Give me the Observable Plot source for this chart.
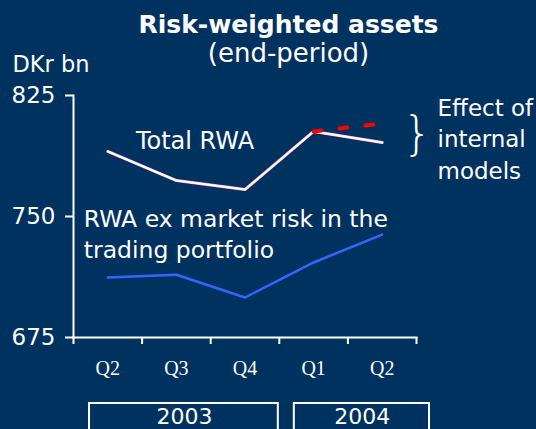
<!DOCTYPE html>
<html>
<head>
<meta charset="utf-8">
<script src="https://cdn.jsdelivr.net/npm/d3@7"></script>
<script src="https://cdn.jsdelivr.net/npm/@observablehq/plot@0.6"></script>
<style>
  html, body { margin: 0; padding: 0; background: #00325f; }
</style>
</head>
<body>
<script>
const quarters = ["Q2", "Q3", "Q4", "Q1", "Q2"];
const totalRWA = [790.3, 772.3, 766.7, 802.7, 795.9];
const rwaExMarket = [712.2, 713.9, 699.8, 721.5, 738.8];
const internalModelsQ = [3, 4];
const internalModels = [802.7, 807.6];
const years = ["2003", "2004"];
const yearFirstQ = [0, 3];
const yearLastQ = [2, 4];
const yTicks = [675, 750, 825];

const idx = quarters.map((_, i) => i);
const totalData = idx.map(i => ({x: i, y: totalRWA[i]}));
const exData = idx.map(i => ({x: i, y: rwaExMarket[i]}));
const imData = internalModelsQ.map((q, i) => ({x: q, y: internalModels[i]}));
const yearData = years.map((y, i) => ({year: y, x1: yearFirstQ[i] - 0.5, x2: yearLastQ[i] + 0.5}));
const bounds = d3.range(-0.5, quarters.length, 1);
const W = "white";
const F = "DejaVu Sans";

const chart = Plot.plot({
  width: 536,
  height: 429,
  marginLeft: 73,
  marginRight: 120,
  marginTop: 95,
  marginBottom: 92,
  style: {background: "#00325f", color: W, fontFamily: F, overflow: "visible"},
  x: {domain: [-0.5, quarters.length - 0.5], axis: null},
  y: {domain: [675, 825], axis: null},
  marks: [
    // year boxes
    Plot.rect([yearData[0]], {x1: "x1", x2: "x2", fill: "none", stroke: W, strokeWidth: 2,
      insetTop: 308, insetBottom: -100, insetLeft: 16, insetRight: 1}),
    Plot.rect([yearData[1]], {x1: "x1", x2: "x2", fill: "none", stroke: W, strokeWidth: 2,
      insetTop: 308, insetBottom: -100, insetLeft: 15, insetRight: -13}),
    Plot.text([yearData[0]], {x: "x1", text: "year", frameAnchor: "bottom",
      lineAnchor: "top", dx: 111, dy: 71, fontSize: 22, fill: W}),
    Plot.text([yearData[1]], {x: "x1", text: "year", frameAnchor: "bottom",
      lineAnchor: "top", dx: 83, dy: 71, fontSize: 22, fill: W}),
    // axes
    Plot.frame({anchor: "left", stroke: W, strokeWidth: 2}),
    Plot.frame({anchor: "bottom", stroke: W, strokeWidth: 2}),
    Plot.axisY({ticks: yTicks, tickSize: 8, tickPadding: 10, fontSize: 23, strokeWidth: 2, label: null}),
    Plot.axisX({ticks: bounds, tickSize: 7, tickFormat: () => "", strokeWidth: 2, label: null}),
    Plot.axisX({ticks: idx, tickSize: 0, tickPadding: 23, tickFormat: i => quarters[i],
      fontFamily: "Liberation Serif", fontSize: 20, label: null}),
    // lines
    Plot.line(totalData, {x: "x", y: "y", stroke: "#ff99dd", strokeWidth: 3}),
    Plot.line(totalData, {x: "x", y: "y", stroke: "#ffffff", strokeWidth: 2}),
    Plot.line(exData, {x: "x", y: "y", stroke: "#3366ff", strokeWidth: 2.5}),
    Plot.line(imData, {x: "x", y: "y", stroke: "#ff0000", strokeWidth: 4, strokeDasharray: "8,18"}),
    // annotations
    Plot.text(["Total RWA"], {x: 0.41, y: 802.1, lineAnchor: "top", textAnchor: "start", fontSize: 24, fill: W}),
    Plot.text(["RWA ex market risk in the\ntrading portfolio"], {x: -0.35, y: 757.4, lineAnchor: "top",
      textAnchor: "start", fontSize: 23.5, lineHeight: 1.32, fill: W}),
    Plot.text(["Effect of\ninternal\nmodels"], {x: 4.5, y: 826.2, dx: 21, lineAnchor: "top",
      textAnchor: "start", fontSize: 23, lineHeight: 1.37, fill: W}),
    Plot.text(["}"], {x: 4.5, y: 800.8, dx: 1, fontSize: 46, fontWeight: 200, fill: W}),
    // titles
    Plot.text(["Risk-weighted assets"], {frameAnchor: "top", dx: 43.5, dy: -80, lineAnchor: "top",
      fontSize: 25, fontWeight: "bold", fill: W}),
    Plot.text(["(end-period)"], {frameAnchor: "top", dx: 43.5, dy: -52, lineAnchor: "top",
      fontSize: 26, fill: W}),
    Plot.text(["DKr bn"], {frameAnchor: "top-left", dx: -61, dy: -39, lineAnchor: "top",
      textAnchor: "start", fontSize: 22.5, fill: W})
  ]
});
document.body.appendChild(chart);
</script>
</body>
</html>
